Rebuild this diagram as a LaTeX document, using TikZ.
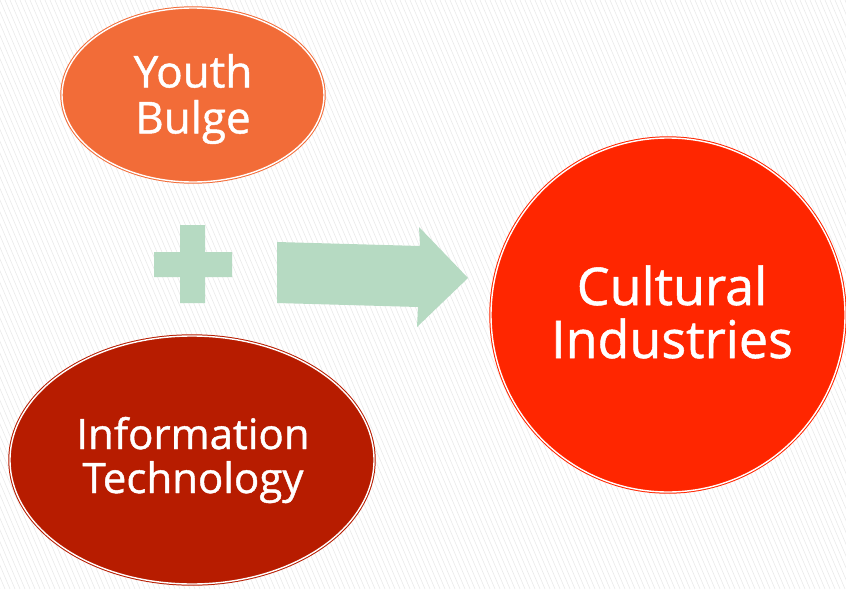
\documentclass[tikz,border=0pt]{standalone}
\usepackage{fontspec}
\setmainfont{Open Sans}[BoldFont={Open Sans}, BoldFeatures={FakeBold=1.0}]
\usetikzlibrary{shapes.geometric}
\definecolor{youth}{RGB}{242,108,56}
\definecolor{info}{RGB}{183,28,0}
\definecolor{cult}{RGB}{255,38,0}
\definecolor{mint}{RGB}{182,218,194}
\definecolor{stripe}{RGB}{234,234,234}
\tikzset{
  blob/.style={ellipse, inner sep=0pt, double=white, double distance=1.4pt, line width=1pt},
  lbl/.style={text=white, align=center, inner sep=0pt},
  mintshape/.style={fill=mint, draw=none}
}
\begin{document}
\begin{tikzpicture}[x=1pt,y=-1pt]
\useasboundingbox (0,0) rectangle (846,589);
\fill[white] (0,0) rectangle (846,589);
\begin{scope}
\clip (0,0) rectangle (846,589);
\foreach \i in {-60,...,230} {
  \draw[stripe, line width=0.6pt] (\i*5,0) -- (\i*5+250,589);
}
\end{scope}
\node[blob, draw=youth, fill=youth, minimum width=262pt, minimum height=174pt] (yb) at (193,95) {};
\node[lbl, font=\fontsize{44}{46}\selectfont\bfseries] (ybt) at (193,99) {Youth\\Bulge};
\node[blob, draw=info, fill=info, minimum width=364pt, minimum height=248pt] (it) at (192,460) {};
\node[lbl, font=\fontsize{42}{44}\selectfont\bfseries] (itt) at (193,460) {Information\\Technology};
\node[blob, circle, draw=cult, fill=cult, minimum size=354pt] (ci) at (668,315) {};
\node[lbl, font=\fontsize{52}{53}\selectfont\bfseries] (cit) at (672,312) {Cultural\\Industries};
% plus sign
\fill[mintshape] (180,225) -- (205,225) -- (205,252) -- (232,252) -- (232,277) -- (205,277) -- (205,303) -- (180,303) -- (180,277) -- (154,277) -- (154,252) -- (180,252) -- cycle;
% arrow
\fill[mintshape] (277,242) -- (420,246) -- (419,227) -- (468,278) -- (417,327) -- (418,307) -- (277,303) -- cycle;
\end{tikzpicture}
\end{document}
